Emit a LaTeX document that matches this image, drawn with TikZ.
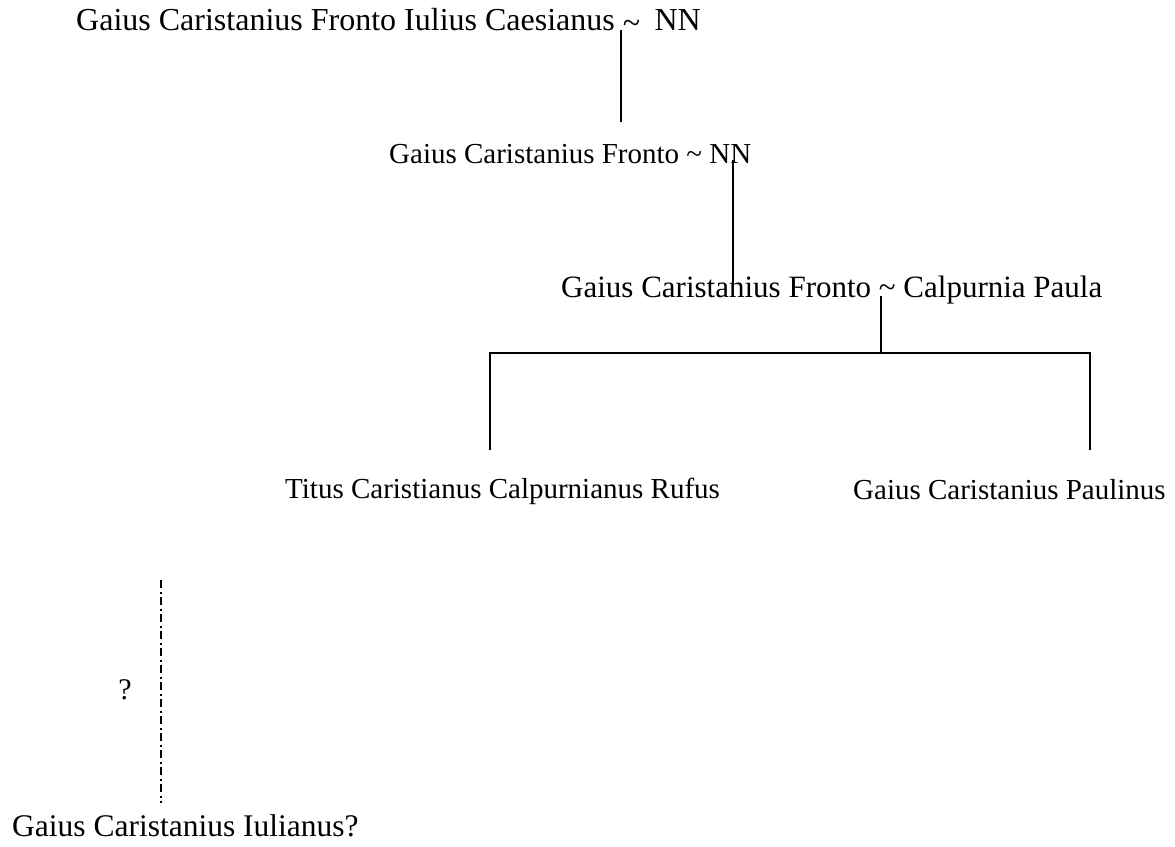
\documentclass[tikz,border=0pt]{standalone}
\usepackage{fontspec}
\setmainfont{Liberation Serif}
\newcommand{\marr}{\raisebox{-0.12em}{\textasciitilde}\hspace{0.2em}}
\begin{document}
\begin{tikzpicture}[x=1pt,y=-1pt,
  person/.style={inner sep=0pt,anchor=base west},
  fs/.style={font=\fontsize{#1}{#1}\selectfont},
  link/.style={line width=2.8pt},
  uncertain/.style={line width=2.8pt,dash pattern=on 8pt off 3.5pt on 2pt off 3.5pt}]
\useasboundingbox (0,0) rectangle (1175,846);
% family members, placed by their baselines
\node[person,fs=32] (p1) at (76,30) {Gaius Caristanius Fronto Iulius Caesianus \marr{} NN};
\node[person,fs=29] (p2) at (389,163) {Gaius Caristanius Fronto \textasciitilde{} NN};
\node[person,fs=31] (p3) at (561,297) {Gaius Caristanius Fronto \textasciitilde{} Calpurnia Paula};
\node[person,fs=29] (p4) at (285,498) {Titus Caristianus Calpurnianus Rufus};
\node[person,fs=29] (p5) at (853,499) {Gaius Caristanius Paulinus};
\node[person,fs=31.5] (p6) at (12,836) {Gaius Caristanius Iulianus?};
\node[person,fs=30,anchor=center] (q) at (125,690) {?};
% junction points
\coordinate (c1) at (621,122);
\coordinate (c2) at (733,285);
\coordinate (c3) at (881,353);
\coordinate (l4) at (490,353);
\coordinate (r5) at (1090,353);
\coordinate (u1) at (161,580);
\coordinate (u2) at (161,803);
% descent lines
\draw[link] (c1 |- 0,30) -- (c1);
\draw[link] (c2 |- 0,160) -- (c2);
\draw[link] (c3 |- 0,296) -- (c3);
\draw[link] (l4 |- 0,450) -- (l4) -- (r5) -- (r5 |- 0,450);
\draw[uncertain] (u1) -- (u2);
\end{tikzpicture}
\end{document}
